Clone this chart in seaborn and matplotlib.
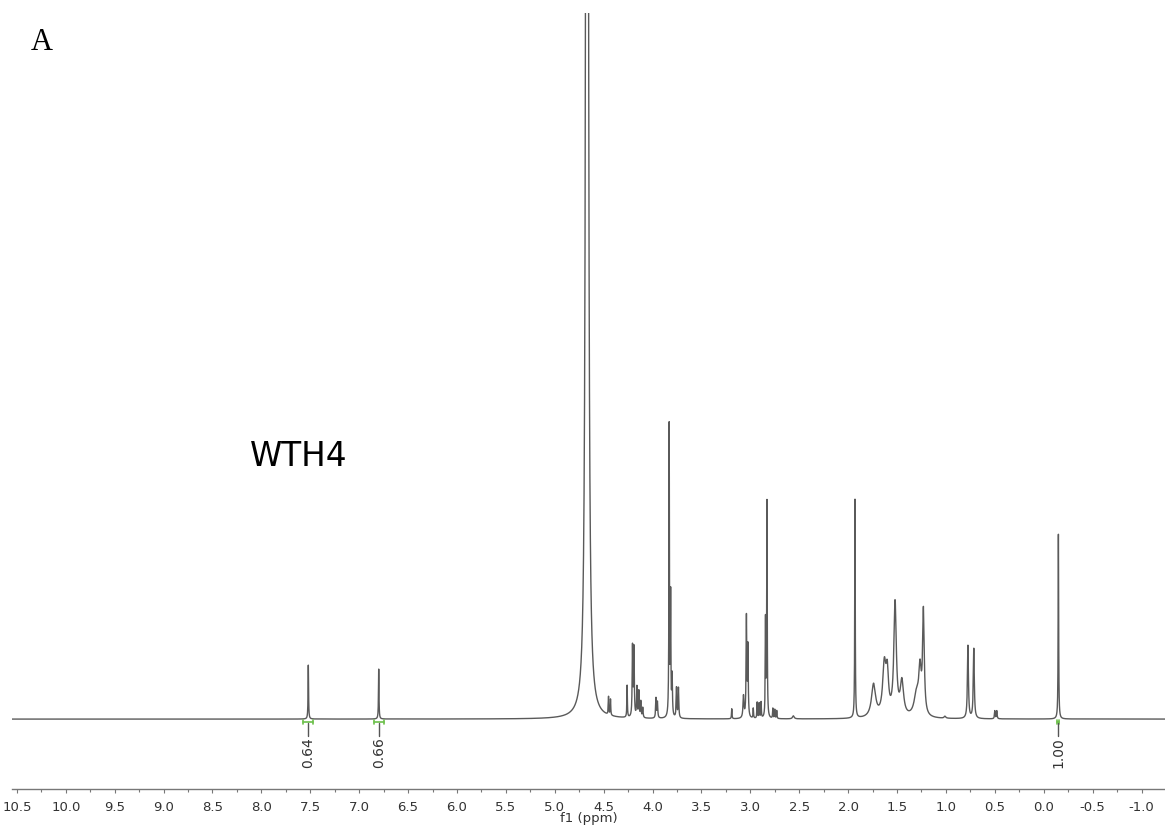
import numpy as np
import pandas as pd
import matplotlib
matplotlib.use("Agg")
from matplotlib import pyplot as plt
from matplotlib.ticker import MultipleLocator, FormatStrFormatter
import seaborn as sns

# peak table (shift in ppm, height above baseline, line width in ppm)
peak_shift = [7.52, 6.80, 4.67, 4.45, 4.43, 4.26, 4.205, 4.19, 4.16, 4.14, 4.12, 4.10,
              3.965, 3.95, 3.83, 3.815, 3.80, 3.755, 3.735, 3.19, 3.07, 3.04, 3.025,
              2.97, 2.93, 2.91, 2.89, 2.845, 2.83, 2.77, 2.75, 2.73, 2.56, 1.93,
              1.74, 1.63, 1.60, 1.52, 1.45, 1.30, 1.265, 1.23, 1.01, 0.775, 0.715,
              0.50, 0.48, -0.15]
peak_height = [54, 50, 6000, 18, 16, 32, 70, 68, 30, 26, 16, 10,
               20, 16, 292, 118, 40, 30, 30, 10, 22, 100, 70,
               10, 16, 15, 16, 96, 216, 10, 9, 8, 3, 219,
               33, 50, 38, 113, 34, 22, 42, 102, 2, 73, 70,
               8, 8, 185]
peak_width = [0.006, 0.006, 0.012, 0.006, 0.006, 0.006, 0.008, 0.008, 0.008, 0.008, 0.008, 0.008,
              0.008, 0.008, 0.006, 0.006, 0.008, 0.008, 0.008, 0.006, 0.012, 0.008, 0.008,
              0.006, 0.006, 0.006, 0.006, 0.006, 0.006, 0.006, 0.006, 0.006, 0.02, 0.006,
              0.05, 0.04, 0.03, 0.03, 0.04, 0.06, 0.03, 0.02, 0.02, 0.012, 0.012,
              0.008, 0.008, 0.006]

# integrals
integral_lo = [7.47, 6.75, -0.16]
integral_hi = [7.57, 6.85, -0.14]
integral_text = ["0.64", "0.66", "1.00"]

x_lim = (10.55, -1.24)
y_lim = (-70, 707)

ppm = np.linspace(-1.3, 10.6, 80000)
spec = np.zeros_like(ppm)
for c, h, w in zip(peak_shift, peak_height, peak_width):
    hw = w / 2
    spec += h * hw**2 / ((ppm - c)**2 + hw**2)
df = pd.DataFrame({"ppm": ppm, "intensity": spec})

sns.set_theme(style="white")
plt.rcParams["font.family"] = ["DejaVu Sans"]
plt.rcParams["axes.unicode_minus"] = False

fig = plt.figure(figsize=(11.65, 8.27), dpi=100)
ax = fig.add_axes([12 / 1165, 38 / 827, 1153 / 1165, 776 / 827])

sns.lineplot(data=df, x="ppm", y="intensity", ax=ax, color="#5a5a5a",
             linewidth=1.0, estimator=None, sort=False)

# integration marks
for lo, hi, txt in zip(integral_lo, integral_hi, integral_text):
    mid = (lo + hi) / 2
    ax.plot([lo, hi], [-3, -3], color="#6cc04a", lw=1.2)
    ax.plot([lo, lo], [-5, -1], color="#6cc04a", lw=1.2)
    ax.plot([hi, hi], [-5, -1], color="#6cc04a", lw=1.2)
    ax.plot([mid, mid], [-4, -17], color="#555555", lw=1.0)
    ax.text(mid, -18, txt, rotation=90, ha="center", va="top",
            fontsize=10, color="#333333")

ax.set_xlim(*x_lim)
ax.set_ylim(*y_lim)
ax.xaxis.set_major_locator(MultipleLocator(0.5))
ax.xaxis.set_minor_locator(MultipleLocator(0.25))
ax.xaxis.set_major_formatter(FormatStrFormatter("%.1f"))
ax.tick_params(axis="x", which="major", direction="out", length=3, width=0.8,
               color="#777777", labelsize=9.5, labelcolor="#333333", pad=5.5, bottom=True)
ax.tick_params(axis="x", which="minor", direction="out", length=1.8, width=0.8,
               color="#777777", bottom=True)
ax.set_yticks([])
ax.set_ylabel("")
ax.set_xlabel("f1 (ppm)", fontsize=9.5, color="#333333", labelpad=-1)
for side in ["top", "left", "right"]:
    ax.spines[side].set_visible(False)
ax.spines["bottom"].set_color("#777777")
ax.spines["bottom"].set_linewidth(1.0)
ax.set_facecolor("white")

fig.text(42 / 1165, 1 - 43 / 827, "A", fontsize=22, family=["Liberation Serif"],
         ha="center", va="center", color="black")
fig.text(299 / 1165, 1 - 456 / 827, "WTH4", fontsize=23.5, ha="center", va="center",
         color="black")

fig.savefig("out.png", dpi=100, facecolor="white")
